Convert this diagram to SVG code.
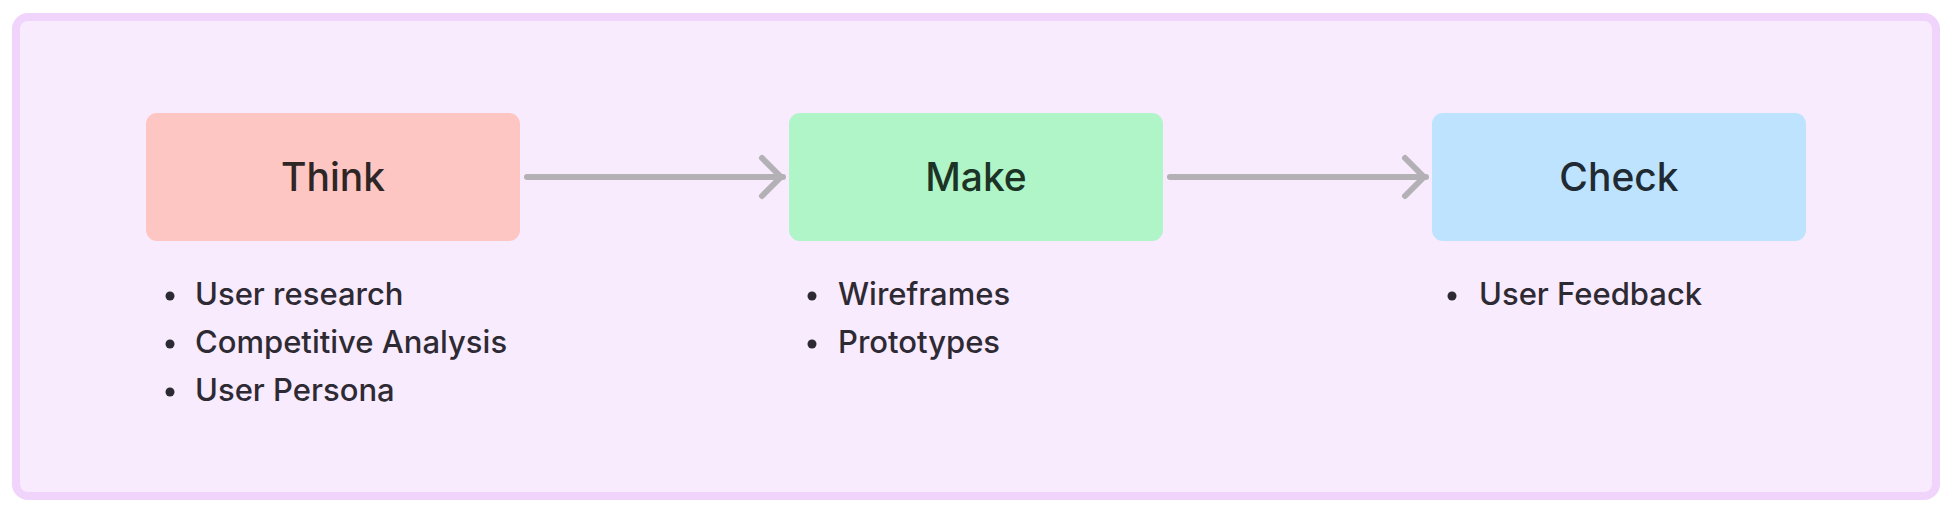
<svg xmlns="http://www.w3.org/2000/svg" width="1950" height="511" viewBox="0 0 1950 511">
<style>
.title{font-family:Inter,"Noto Sans",sans-serif;font-size:39px;font-weight:500;text-anchor:middle;}
.item{font-family:Inter,"Noto Sans",sans-serif;font-size:31px;font-weight:500;fill:#2e2a33;}
.dot{fill:#2e2a33;}
.conn{fill:none;stroke:#b3b1b5;stroke-width:6;stroke-linecap:round;stroke-linejoin:round;}
</style>
<rect x="16" y="17" width="1920" height="479" rx="12" fill="#f8ebfe" stroke="#f1d4fc" stroke-width="8"/>
<g id="connectors">
<path class="conn" d="M527 177 H783 M762 158 L781 177 L762 196"/>
<path class="conn" d="M1170 177 H1426 M1405 158 L1424 177 L1405 196"/>
</g>
<g id="think">
<rect x="146" y="113" width="374" height="128" rx="11" fill="#fec6c2"/>
<text class="title" x="333" y="191" fill="#2e2626">Think</text>
<circle class="dot" cx="170" cy="296" r="4.5"/>
<text class="item" x="195" y="305">User research</text>
<circle class="dot" cx="170" cy="344" r="4.5"/>
<text class="item" x="195" y="353">Competitive Analysis</text>
<circle class="dot" cx="170" cy="392" r="4.5"/>
<text class="item" x="195" y="401">User Persona</text>
</g>
<g id="make">
<rect x="789" y="113" width="374" height="128" rx="11" fill="#aff5c8"/>
<text class="title" x="976" y="191" fill="#1c3326">Make</text>
<circle class="dot" cx="812" cy="296" r="4.5"/>
<text class="item" x="838" y="305">Wireframes</text>
<circle class="dot" cx="812" cy="344" r="4.5"/>
<text class="item" x="838" y="353">Prototypes</text>
</g>
<g id="check">
<rect x="1432" y="113" width="374" height="128" rx="11" fill="#bde3fe"/>
<text class="title" x="1619" y="191" fill="#1f2a33">Check</text>
<circle class="dot" cx="1452" cy="296" r="4.5"/>
<text class="item" x="1479" y="305">User Feedback</text>
</g>
</svg>
